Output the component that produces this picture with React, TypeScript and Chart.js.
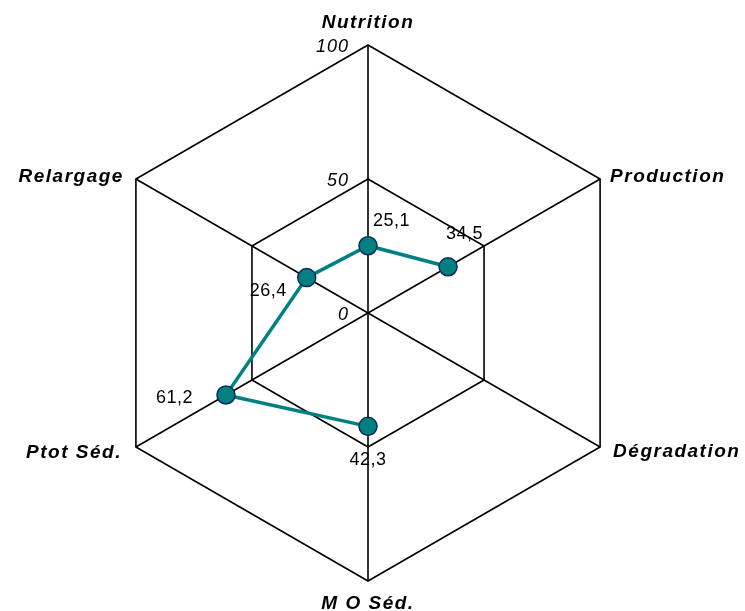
import React, { useEffect, useRef } from "react";
import { Chart, registerables } from "chart.js";

Chart.register(...registerables);

const categories = ["Nutrition", "Production", "Dégradation", "M O Séd.", "Ptot Séd.", "Relargage"];
const values: (number | null)[] = [25.1, 34.5, null, 42.3, 61.2, 26.4];
const tickValues = [0, 50, 100];

// label styling (offsets relative to scale vertices / points)
const catLayout = [
  { align: "center", dx: 0, dy: -17 },
  { align: "left", dx: 10, dy: 3 },
  { align: "left", dx: 13, dy: 10 },
  { align: "center", dx: 0, dy: 28 },
  { align: "right", dx: -14, dy: 11 },
  { align: "right", dx: -12, dy: 3 },
];
const dataLayout = [
  { align: "left", dx: 5, dy: -20 },
  { align: "left", dx: -2, dy: -28 },
  { align: "left", dx: 0, dy: 0 },
  { align: "center", dx: 0, dy: 39 },
  { align: "right", dx: -33, dy: 8 },
  { align: "right", dx: -20, dy: 18 },
];

const FONT = '"Liberation Sans", Arial, sans-serif';

const overlay = {
  id: "overlay",
  afterDraw(chart: any) {
    const ctx = chart.ctx as CanvasRenderingContext2D;
    const r = chart.scales.r;
    ctx.save();
    ctx.fillStyle = "#000";
    ctx.textBaseline = "alphabetic";
    // tick labels
    ctx.font = `italic 18px ${FONT}`;
    (ctx as any).letterSpacing = "1px";
    ctx.textAlign = "right";
    tickValues.forEach((v) => {
      const y = r.yCenter - r.getDistanceFromCenterForValue(v);
      ctx.fillText(String(v), r.xCenter - 19, y + 7);
    });
    // category labels
    ctx.font = `italic bold 19px ${FONT}`;
    (ctx as any).letterSpacing = "1.5px";
    categories.forEach((c, i) => {
      const p = r.getPointPosition(i, r.drawingArea);
      const l = catLayout[i];
      ctx.textAlign = l.align as CanvasTextAlign;
      ctx.fillText(c, p.x + l.dx, p.y + l.dy);
    });
    // data labels
    ctx.font = `18px ${FONT}`;
    (ctx as any).letterSpacing = "0.5px";
    const meta = chart.getDatasetMeta(0);
    values.forEach((v, i) => {
      if (v === null) return;
      const pt = meta.data[i];
      const l = dataLayout[i];
      ctx.textAlign = l.align as CanvasTextAlign;
      ctx.fillText(v.toFixed(1).replace(".", ","), pt.x + l.dx, pt.y + l.dy);
    });
    ctx.restore();
  },
};

export default function App() {
  const ref = useRef<HTMLCanvasElement>(null);
  useEffect(() => {
    if (!ref.current) return;
    const chart = new Chart(ref.current, {
      type: "radar",
      data: {
        labels: categories,
        datasets: [
          {
            data: values,
            borderColor: "#008080",
            borderWidth: 3.5,
            backgroundColor: "#008080",
            pointBackgroundColor: "#008080",
            pointBorderColor: "#0d2a5c",
            pointBorderWidth: 1.5,
            pointRadius: 9,
            pointHoverRadius: 9,
            fill: false,
            spanGaps: false,
            tension: 0,
          } as any,
        ],
      },
      options: {
        animation: false,
        responsive: false,
        devicePixelRatio: 1,
        layout: { padding: { left: 0, right: 9, top: 45, bottom: 30 } },
        plugins: { legend: { display: false }, tooltip: { enabled: false } },
        scales: {
          r: {
            min: 0,
            max: 100,
            ticks: { display: false, stepSize: 50 },
            pointLabels: { display: false },
            grid: { color: "#000", lineWidth: 1.6 },
            angleLines: { color: "#000", lineWidth: 1.6 },
          },
        },
      },
      plugins: [overlay],
    });
    return () => chart.destroy();
  }, []);
  return (
    <div style={{ position: "absolute", left: 0, top: 0, width: 745, height: 611, background: "#fff" }}>
      <canvas ref={ref} width={745} height={611} style={{ display: "block" }} />
    </div>
  );
}
